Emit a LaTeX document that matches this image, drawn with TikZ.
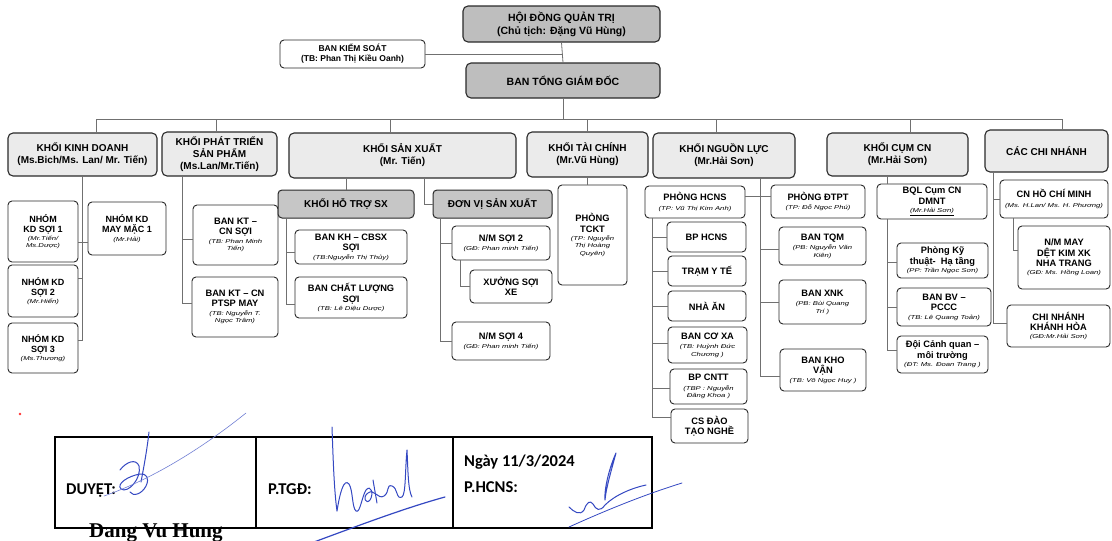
\documentclass[tikz,border=0pt]{standalone}
\usepackage{fontspec}
\setmainfont{Liberation Sans}
\newfontfamily\sigfont{Carlito}
\newfontfamily\serifbf{Liberation Serif}
\newfontfamily\smit[FakeStretch=1.35]{Liberation Sans}
\usetikzlibrary{calc}
\definecolor{gA}{HTML}{BEBEBE}
\definecolor{gB}{HTML}{EBEBEB}
\definecolor{gC}{HTML}{C6C6C6}
\definecolor{ln}{HTML}{707070}
\definecolor{bd}{HTML}{2A2A2A}
\definecolor{ink}{HTML}{3448C2}
\newcommand{\fa}{\fontsize{10.5}{13}\selectfont\bfseries}
\newcommand{\fk}{\fontsize{10}{12}\selectfont\bfseries}
\newcommand{\fs}{\fontsize{9.3}{10.4}\selectfont\bfseries}
\newcommand{\fkd}{\fontsize{9}{10.2}\selectfont\bfseries}
\newcommand{\ft}{\smit\itshape\mdseries\fontsize{5.7}{7}\selectfont}
\newcommand{\bx}[7][]{\node[box,#1,minimum width={#5-#3},minimum height={#6-#4}] (#2) at ({(#3+#5)/2},{(#4+#6)/2}) {#7};}
\tikzset{
  box/.style={draw=bd, line width=0.9pt, rounded corners=4pt, align=center, inner sep=1pt, font=\fs, fill=white},
  topbox/.style={fill=gA, font=\fa, line width=1.1pt, rounded corners=5pt},
  khoi/.style={fill=gB, font=\fk, line width=1.1pt, rounded corners=5pt},
  subhead/.style={fill=gC, font=\fk, line width=1pt},
  conn/.style={draw=ln, line width=0.8pt},
  sig/.style={draw=ink, line width=1pt, line cap=round, line join=round},
  sigthin/.style={draw=ink!70, line width=0.6pt, line cap=round},
  tlabel/.style={anchor=base west, inner sep=0pt, font=\sigfont\bfseries\fontsize{16.5}{18}\selectfont}
}
\begin{document}
\begin{tikzpicture}[x=1pt,y=-1pt]
\fill[white] (0,0) rectangle (1112,541);
\useasboundingbox (0,0) rectangle (1112,541);

% ---------- top ----------
\bx[topbox]{hdqt}{463}{6}{660}{42}{HỘI ĐỒNG QUẢN TRỊ\\(Chủ tịch: Đặng Vũ Hùng)}
\bx[font=\fontsize{8.5}{10}\selectfont\bfseries]{bks}{280}{40}{425}{68}{BAN KIỂM SOÁT\\(TB: Phan Thị Kiều Oanh)}
\bx[topbox]{btgd}{466}{63}{660}{98}{BAN TỔNG GIÁM ĐỐC}

% ---------- khoi ----------
\bx[khoi]{kkd}{8}{133}{157}{176}{KHỐI KINH DOANH\\(Ms.Bich/Ms. Lan/ Mr. Tiến)}
\bx[khoi]{kpt}{162}{132}{277}{176}{KHỐI PHÁT TRIỂN\\SẢN PHẨM\\(Ms.Lan/Mr.Tiến)}
\bx[khoi]{ksx}{289}{133}{516}{178}{KHỐI SẢN XUẤT\\(Mr. Tiến)}
\bx[khoi]{ktc}{527}{132}{648}{177}{KHỐI TÀI CHÍNH\\(Mr.Vũ Hùng)}
\bx[khoi]{knl}{653}{133}{795}{178}{KHỐI NGUỒN LỰC\\(Mr.Hải Sơn)}
\bx[khoi]{kcum}{827}{133}{968}{176}{KHỐI CỤM CN\\(Mr.Hải Sơn)}
\bx[khoi]{kcn}{985}{130}{1108}{172}{CÁC CHI NHÁNH}

% ---------- kinh doanh ----------
\bx[font=\fkd]{kds1}{8}{201}{78}{262}{NHÓM\\KD SỢI 1\\[-2pt]\ft (Mr.Tiến/\\[-3pt]\ft Ms.Dược)}
\bx[font=\fkd]{kdmm}{88}{202}{166}{255}{NHÓM KD\\MAY MẶC 1\\[-2pt]\ft (Mr.Hải)}
\bx[font=\fkd]{kds2}{8}{265}{78}{317}{NHÓM KD\\SỢI 2\\[-2pt]\ft (Mr.Hiển)}
\bx[font=\fkd]{kds3}{8}{323}{78}{373}{NHÓM KD\\SỢI 3\\[-2pt]\ft (Ms.Thương)}

% ---------- phat trien ----------
\bx{ktcs}{193}{205}{278}{265}{BAN KT –\\CN SỢI\\[-2pt]\ft (TB: Phan Minh\\[-3pt]\ft Tiến)}
\bx{ktptsp}{192}{277}{278}{337}{BAN KT – CN\\PTSP MAY\\[-2pt]\ft (TB: Nguyễn T.\\[-3pt]\ft Ngọc Trâm)}

% ---------- san xuat ----------
\bx[subhead]{kht}{278}{190}{414}{218}{KHỐI HỖ TRỢ SX}
\bx[subhead]{kdv}{433}{190}{552}{218}{ĐƠN VỊ SẢN XUẤT}
\bx{kh}{295}{230}{407}{264}{BAN KH – CBSX\\SỢI\\[-2pt]\ft (TB:Nguyễn Thị Thủy)}
\bx{kcl}{295}{277}{407}{318}{BAN CHẤT LƯỢNG\\SỢI\\[-2pt]\ft (TB: Lê Diệu Dược)}
\bx{nm2}{452}{226}{550}{260}{N/M SỢI 2\\[-1pt]\ft (GĐ: Phan minh Tiến)}
\bx{xsx}{470}{270}{552}{303}{XƯỞNG SỢI\\XE}
\bx{nm4}{452}{322}{550}{360}{N/M SỢI 4\\[-1pt]\ft (GĐ: Phan minh Tiến)}

% ---------- tai chinh ----------
\bx{tckt}{558}{185}{627}{285}{PHÒNG\\TCKT\\[-2pt]\ft (TP: Nguyễn\\[-3pt]\ft Thị Hoàng\\[-3pt]\ft Quyên)}

% ---------- nguon luc ----------
\bx{hcns}{645}{186}{745}{218}{PHÒNG HCNS\\[-1pt]\ft (TP: Vũ Thị Kim Anh)}
\bx{dtpt}{771}{185}{865}{218}{PHÒNG ĐTPT\\[-1pt]\ft (TP: Đỗ Ngọc Phú)}
\bx{bphcns}{667}{222}{746}{252}{BP HCNS}
\bx{tyt}{668}{256}{746}{286}{TRẠM Y TẾ}
\bx{nhaan}{668}{291}{746}{321}{NHÀ ĂN}
\bx{bcx}{668}{327}{747}{363}{BAN CƠ XA\\[-1pt]\ft (TB: Huỳnh Đức\\[-3pt]\ft Chương )}
\bx{cntt}{670}{369}{747}{404}{BP CNTT\\[-1pt]\ft (TBP : Nguyễn\\[-3pt]\ft Đăng Khoa )}
\bx{csdt}{671}{409}{748}{443}{CS ĐÀO\\TẠO NGHỀ}
\bx{tqm}{779}{227}{866}{265}{BAN TQM\\[-1pt]\ft (PB: Nguyễn Văn\\[-3pt]\ft Kiên)}
\bx{xnk}{779}{280}{866}{324}{BAN XNK\\[-1pt]\ft (PB: Bùi Quang\\[-3pt]\ft Trí )}
\bx{kho}{780}{349}{866}{391}{BAN KHO\\VẬN\\[-2pt]\ft (TB: Võ Ngọc Huy )}

% ---------- cum cn ----------
\bx{bql}{877}{184}{987}{219}{BQL Cụm CN\\DMNT\\[-2pt]\ft \underline{(Mr.Hải Sơn)}}
\bx{kthat}{897}{243}{988}{278}{Phòng Kỹ\\thuật-\ \ Hạ tầng\\[-2pt]\ft (PP: Trần Ngọc Sơn)}
\bx{bvpccc}{897}{288}{991}{326}{BAN BV –\\PCCC\\[-2pt]\ft (TB: Lê Quang Toản)}
\bx{dcq}{897}{336}{988}{373}{Đội Cảnh quan –\\môi trường\\[-2pt]\ft (ĐT: Ms. Đoan Trang )}

% ---------- chi nhanh ----------
\bx{cnhcm}{1000}{180}{1108}{218}{CN HỒ CHÍ MINH\\[-1pt]\ft (Ms. H.Lan/ Ms. H. Phương)}
\bx{nmmay}{1018}{226}{1110}{289}{N/M MAY\\DỆT KIM XK\\NHA TRANG\\[-2pt]\ft (GĐ: Ms. Hồng Loan)}
\bx{cnkh}{1007}{305}{1110}{347}{CHI NHÁNH\\KHÁNH HÒA\\[-2pt]\ft (GĐ:Mr.Hải Sơn)}

% ---------- connectors ----------
\draw[conn] (hdqt.south) -- (btgd.north);
\draw[conn] (bks.east) -- (bks.east -| hdqt.south);
\coordinate (busL) at (96,119);
\coordinate (busR) at (1062,119);
\draw[conn] (busL) -- (busR);
\draw[conn] (btgd.south) -- (btgd.south |- busL);
\foreach \n/\d in {kkd/13.5,kpt/-3.5,ksx/-12.5,ktc/0,knl/-8,kcum/12.5,kcn/15.5}{
  \coordinate (d\n) at ([xshift=\d pt]\n.north);
  \draw[conn] (d\n) -- (d\n |- busL);
}
% kinh doanh
\draw[conn] (kkd.south) |- ([yshift=-11pt]kds1.east);
\draw[conn] (kkd.south) |- ([yshift=-13.5pt]kdmm.west);
\draw[conn] (kkd.south) |- ([yshift=13pt]kds2.east);
\draw[conn] (kkd.south) |- ([yshift=8pt]kds3.east);
% phat trien
\coordinate (tkpt) at ([xshift=-37.5pt]kpt.south);
\draw[conn] (tkpt) |- ([yshift=-4.5pt]ktcs.west);
\draw[conn] (tkpt) |- ([yshift=4pt]ktptsp.west);
% san xuat
\coordinate (tksx) at (kht.north |- ksx.south);
\draw[conn] (tksx) -- (kht.north);
\draw[conn] ([xshift=21.5pt]ksx.south) |- (kdv.west);
\coordinate (tkht) at ([xshift=-60pt]kht.south);
\draw[conn] (tkht) |- ([yshift=-5pt]kh.west);
\draw[conn] (tkht) |- ([yshift=-7pt]kcl.west);
\coordinate (tkdv) at ([xshift=-52.5pt]kdv.south);
\draw[conn] (tkdv) |- (nm2.west);
\draw[conn] (tkdv) |- (nm4.west);
\draw[conn] ([xshift=-41pt]nm2.south) |- (xsx.west);
% tai chinh
\draw[conn] (ktc.south) -- (ktc.south |- tckt.north);
% nguon luc
\coordinate (tknl) at ([xshift=36pt]knl.south);
\draw[conn] (tknl) |- ([yshift=6pt]hcns.east);
\draw[conn] (tknl) |- ([yshift=5.5pt]dtpt.west);
\draw[conn] (tknl) |- ([yshift=-3.5pt]tqm.west);
\draw[conn] (tknl) |- (xnk.west);
\draw[conn] (tknl) |- ([yshift=-6pt]kho.west);
\coordinate (thcns) at ([xshift=-43pt]hcns.south);
\draw[conn] (thcns) |- (bphcns.west);
\draw[conn] (thcns) |- (tyt.west);
\draw[conn] (thcns) |- (nhaan.west);
\draw[conn] (thcns) |- ([yshift=2pt]bcx.west);
\draw[conn] (thcns) |- ([yshift=-1.5pt]cntt.west);
\draw[conn] (thcns) |- ([yshift=9pt]csdt.west);
% cum cn
\coordinate (tbql) at ([xshift=-45pt]bql.north);
\draw[conn] (tbql) -- (tbql |- kcum.south);
\coordinate (tbqls) at ([xshift=-45pt]bql.south);
\draw[conn] (tbqls) |- ([yshift=-1.5pt]kthat.west);
\draw[conn] (tbqls) |- (bvpccc.west);
\draw[conn] (tbqls) |- ([yshift=4.5pt]dcq.west);
% chi nhanh
\coordinate (tkcn) at ([xshift=-53.5pt]kcn.south);
\draw[conn] (tkcn) |- (cnhcm.west);
\draw[conn] (tkcn) |- ([yshift=3pt]cnkh.west);
\draw[conn] ([xshift=-41pt]cnhcm.south) |- ([yshift=7pt]nmmay.west);

% ---------- signature table ----------
\fill[red!80] (20,414) circle (1.3);
\draw[black, line width=1.1pt] (55,437) rectangle (652,528);
\draw[black, line width=1.1pt] (256,437) -- (256,528);
\draw[black, line width=1.1pt] (453,437) -- (453,528);
\node[tlabel] (duyet) at (66,494) {DUYỆT:};
\node[tlabel] (ptgd) at (268,494) {P.TGĐ:};
\node[tlabel] (ngay) at (464,466) {Ngày 11/3/2024};
\node[tlabel] (phcns) at (464,492) {P.HCNS:};
\node[anchor=base west, inner sep=0pt, font=\serifbf\bfseries\fontsize{21}{24}\selectfont] (dvh) at (89,537) {Dang Vu Hung};

% signatures
\draw[sig] (149,432) .. controls (147,450) and (144,466) .. (141,482);
\draw[sig] (120,470) .. controls (126,462) and (136,458) .. (139,466) .. controls (142,478) and (128,494) .. (121,489) .. controls (116,484) and (128,476) .. (140,474) .. controls (146,473) and (150,478) .. (146,486) .. controls (142,494) and (133,497) .. (130,492);
\draw[sigthin] (104,496) .. controls (150,480) and (200,450) .. (246,413);
\draw[sig] (332,427) .. controls (333,455) and (334,490) .. (337,511) .. controls (340,492) and (344,478) .. (349,484) .. controls (353,490) and (352,508) .. (356,511) .. controls (360,514) and (362,496) .. (366,490) .. controls (371,484) and (374,494) .. (370,500) .. controls (366,505) and (362,497) .. (368,493) .. controls (374,488) and (378,500) .. (384,496) .. controls (390,492) and (386,484) .. (392,486) .. controls (398,488) and (396,500) .. (402,497) .. controls (406,494) and (405,470) .. (407,450) .. controls (408,470) and (408,490) .. (412,497);
\draw[sig] (373,480) -- (377,503);
\draw[sig, line width=1.2pt] (314,542) .. controls (360,525) and (405,508) .. (445,497);
\draw[sig] (616,453) .. controls (612,468) and (606,488) .. (605,500) .. controls (604,488) and (610,466) .. (616,453);
\draw[sig] (569,507) .. controls (574,512) and (580,516) .. (584,510) .. controls (587,502) and (590,500) .. (593,504) .. controls (596,510) and (600,512) .. (605,505) .. controls (615,495) and (632,488) .. (646,485);
\draw[sig, line width=0.8pt] (569,527) .. controls (600,513) and (640,496) .. (682,483);
\end{tikzpicture}
\end{document}
